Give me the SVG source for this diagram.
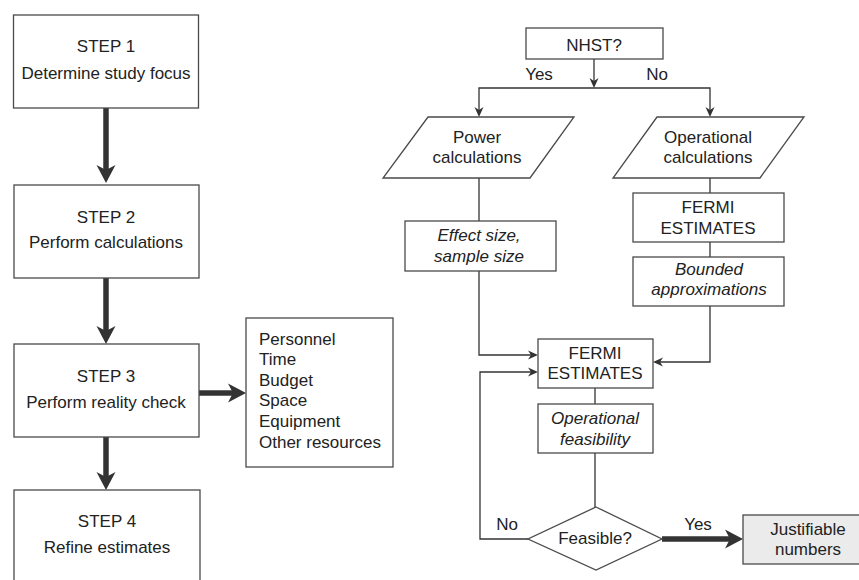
<svg xmlns="http://www.w3.org/2000/svg" width="859" height="580" viewBox="0 0 859 580">
<defs>
<style>
.box{fill:#fff;stroke:#4a4a4a;stroke-width:1.3}
.gbox{fill:#ebebeb;stroke:#4a4a4a;stroke-width:1.3}
text{font-family:"Liberation Sans",Arial,sans-serif;font-size:17px;fill:#222}
.c{text-anchor:middle}
.i{font-style:italic}
.thick{fill:none;stroke:#333;stroke-width:5.5}
.thin{fill:none;stroke:#333;stroke-width:1.3}
</style>
<marker id="ah" markerUnits="userSpaceOnUse" viewBox="0 0 20 20" markerWidth="20" markerHeight="20" refX="10" refY="10" orient="auto">
<path d="M0,0.5 L18,10 L0,19.5 L5,10 z" fill="#333"/>
</marker>
<marker id="at" markerUnits="userSpaceOnUse" viewBox="0 0 12 10" markerWidth="12" markerHeight="10" refX="6" refY="5" orient="auto">
<path d="M0,0.5 L10,5 L0,9.5 L3,5 z" fill="#333"/>
</marker>
</defs>
<rect width="859" height="580" fill="#fff"/>
<g id="connectors">
<line class="thick" x1="106" y1="108" x2="106" y2="175" marker-end="url(#ah)"/>
<line class="thick" x1="106" y1="278" x2="106" y2="336" marker-end="url(#ah)"/>
<line class="thick" x1="106" y1="437" x2="106" y2="482" marker-end="url(#ah)"/>
<line class="thick" x1="199" y1="393" x2="238" y2="393" marker-end="url(#ah)"/>
<line class="thin" x1="594" y1="59" x2="594" y2="84" marker-end="url(#at)"/>
<path class="thin" d="M594,88 L479,88 L479,113" marker-end="url(#at)"/>
<path class="thin" d="M594,88 L710,88 L710,113" marker-end="url(#at)"/>
<line class="thin" x1="479" y1="178" x2="479" y2="221"/>
<path class="thin" d="M479,271 L479,355 L534,355" marker-end="url(#at)"/>
<line class="thin" x1="710" y1="178" x2="710" y2="193"/>
<line class="thin" x1="710" y1="242" x2="710" y2="257"/>
<path class="thin" d="M710,306 L710,362 L657,362" marker-end="url(#at)"/>
<line class="thin" x1="595" y1="388" x2="595" y2="404"/>
<line class="thin" x1="595" y1="453" x2="595" y2="507"/>
<path class="thin" d="M528,539 L480,539 L480,372 L534,372" marker-end="url(#at)"/>
<line class="thick" x1="662" y1="539" x2="735" y2="539" marker-end="url(#ah)"/>
<text class="c" x="539" y="80">Yes</text>
<text class="c" x="657" y="80">No</text>
<text class="c" x="507" y="530">No</text>
<text class="c" x="698" y="530">Yes</text>
</g>
<g id="step1">
<rect class="box" x="13.5" y="15" width="185" height="93"/>
<text class="c" x="106" y="52">STEP 1</text>
<text class="c" x="106" y="79">Determine study focus</text>
</g>
<g id="step2">
<rect class="box" x="14" y="185" width="185" height="93"/>
<text class="c" x="106" y="223">STEP 2</text>
<text class="c" x="106" y="248">Perform calculations</text>
</g>
<g id="step3">
<rect class="box" x="14" y="344" width="185" height="93"/>
<text class="c" x="106" y="382">STEP 3</text>
<text class="c" x="106" y="408">Perform reality check</text>
</g>
<g id="step4">
<rect class="box" x="14" y="490" width="186" height="100"/>
<text class="c" x="107" y="527">STEP 4</text>
<text class="c" x="107" y="553">Refine estimates</text>
</g>
<g id="resources">
<rect class="box" x="246" y="318" width="147" height="149"/>
<text x="259" y="345">Personnel</text>
<text x="259" y="365">Time</text>
<text x="259" y="386">Budget</text>
<text x="259" y="406">Space</text>
<text x="259" y="427">Equipment</text>
<text x="259" y="448">Other resources</text>
</g>
<g id="nhst">
<rect class="box" x="526" y="28" width="137" height="31"/>
<text class="c" x="594" y="51">NHST?</text>
</g>
<g id="power">
<polygon class="box" points="428,117 574,117 530,178 383,178"/>
<text class="c" x="477" y="143">Power</text>
<text class="c" x="477" y="163">calculations</text>
</g>
<g id="operational">
<polygon class="box" points="657,117 804,117 760,178 613,178"/>
<text class="c" x="708" y="143">Operational</text>
<text class="c" x="708" y="163">calculations</text>
</g>
<g id="effect">
<rect class="box" x="405" y="221" width="151" height="50"/>
<text class="c i" x="479" y="241">Effect size,</text>
<text class="c i" x="479" y="262">sample size</text>
</g>
<g id="fermi1">
<rect class="box" x="633" y="193" width="151" height="49"/>
<text class="c" x="708" y="213">FERMI</text>
<text class="c" x="708" y="234">ESTIMATES</text>
</g>
<g id="bounded">
<rect class="box" x="633" y="257" width="151" height="49"/>
<text class="c i" x="709" y="275">Bounded</text>
<text class="c i" x="709" y="295">approximations</text>
</g>
<g id="fermi2">
<rect class="box" x="538" y="339" width="115" height="49"/>
<text class="c" x="595" y="359">FERMI</text>
<text class="c" x="595" y="379">ESTIMATES</text>
</g>
<g id="opfeas">
<rect class="box" x="538" y="404" width="115" height="49"/>
<text class="c i" x="595" y="424">Operational</text>
<text class="c i" x="595" y="445">feasibility</text>
</g>
<g id="feasible">
<polygon class="box" points="596,507 662,539 596,570 528,539"/>
<text class="c" x="595" y="544">Feasible?</text>
</g>
<g id="justifiable">
<rect class="gbox" x="743" y="515" width="125" height="49"/>
<text class="c" x="808" y="535">Justifiable</text>
<text class="c" x="808" y="555">numbers</text>
</g>
</svg>
